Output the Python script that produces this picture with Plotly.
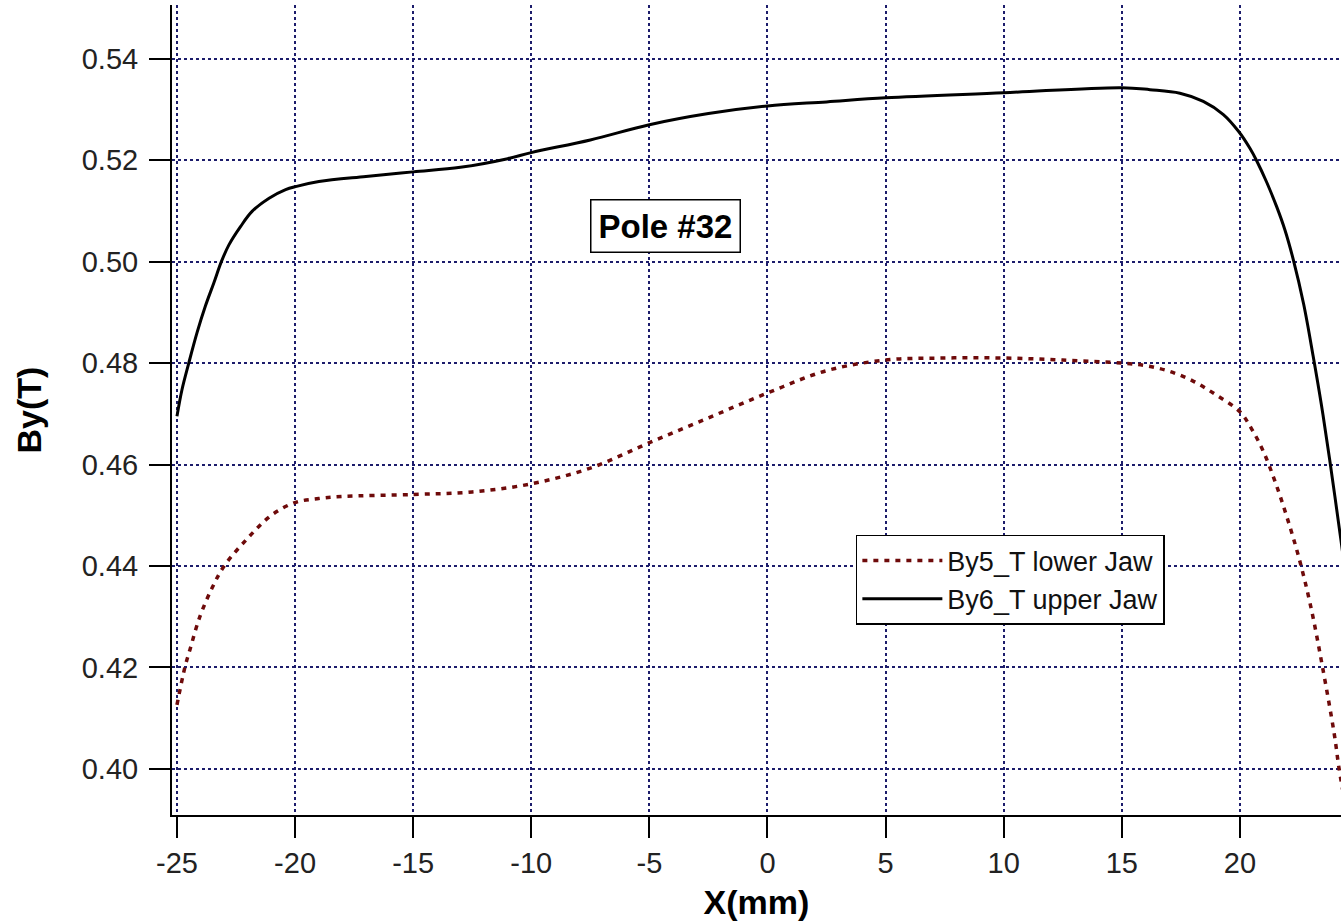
import plotly.graph_objects as go

# Lower jaw (By5_T)
x_lower = [-25.0, -24.66, -24.45, -24.03, -23.5, -23.0, -22.0, -21.0, -20.0, -19.0, -18.0, -15.0,
           -12.5, -10.0, -7.5, -5.0, -2.5, 0.0, 2.5, 5.0, 7.5, 10.0, 12.5, 15.0, 16.0,
           17.0, 18.0, 19.0, 20.0, 20.5, 21.0, 21.5, 22.0, 22.5, 23.0, 23.5, 24.0, 24.2, 24.5]
y_lower = [0.4126, 0.4201, 0.4235, 0.4300, 0.4358, 0.4400, 0.4455, 0.4500, 0.4525, 0.4533, 0.4537, 0.4541,
           0.4546, 0.4562, 0.4593, 0.4643, 0.4692, 0.4741, 0.4785, 0.4806, 0.4810, 0.4810, 0.4806, 0.4800, 0.4795,
           0.4784, 0.4765, 0.4737, 0.4704, 0.4670, 0.4625, 0.4565, 0.4495, 0.4416, 0.4320, 0.4200, 0.4067, 0.4000, 0.3920]

# Upper jaw (By6_T)
x_upper = [-25.0, -24.79, -24.5, -24.15, -23.8, -23.44, -23.12, -22.8, -22.31, -21.82, -21.1, -20.4,
           -19.98, -18.99, -17.0, -15.0, -13.0, -11.0, -10.0, -7.5, -5.0, -2.5, 0.0, 2.5, 5.0, 10.0,
           15.0, 16.19, 17.46, 18.45, 19.3, 19.94, 20.43, 20.71, 21.13, 21.56, 21.91, 22.26,
           22.7, 23.1, 23.45, 23.8, 24.28, 24.5]
y_upper = [0.4695, 0.4747, 0.4800, 0.4860, 0.4912, 0.4958, 0.5000, 0.5033, 0.5069, 0.5099, 0.5125, 0.5142,
           0.5148, 0.5158, 0.5168, 0.5177, 0.5186, 0.5203, 0.5215, 0.5240, 0.5270, 0.5292, 0.5307, 0.5315, 0.5323, 0.5333,
           0.5343, 0.5339, 0.5332, 0.5316, 0.5290, 0.5257, 0.5223, 0.5199, 0.5157, 0.5108, 0.5062, 0.5004,
           0.4916, 0.4814, 0.4718, 0.4610, 0.4450, 0.4375]

x_ticks = [-25, -20, -15, -10, -5, 0, 5, 10, 15, 20]
y_ticks = [0.40, 0.42, 0.44, 0.46, 0.48, 0.50, 0.52, 0.54]

FONT = "Liberation Sans, Arial, sans-serif"

fig = go.Figure()
fig.add_trace(go.Scatter(
    x=x_lower, y=y_lower, mode="lines", name="By5_T lower Jaw",
    line=dict(color="#6e0a0a", width=3.5, dash="5px,6px", shape="spline", smoothing=1.0),
))
fig.add_trace(go.Scatter(
    x=x_upper, y=y_upper, mode="lines", name="By6_T upper Jaw",
    line=dict(color="#000000", width=3, shape="spline", smoothing=1.0),
))

fig.add_annotation(
    x=-4.3, y=0.5071, xref="x", yref="y", text="<b>Pole #32</b>", showarrow=False,
    font=dict(family=FONT, size=33, color="#000000"),
    bordercolor="#000000", borderwidth=1.5, borderpad=7, bgcolor="#ffffff",
)

grid = dict(showgrid=True, gridcolor="#1c1c6b", gridwidth=1.5, griddash="3px,3px")

fig.update_layout(
    width=1341, height=923,
    margin=dict(l=172, r=0, t=5, b=108),
    paper_bgcolor="#ffffff", plot_bgcolor="#ffffff",
    font=dict(family=FONT, color="#222222"),
    showlegend=True,
    legend=dict(
        x=0.585, y=0.3457, xanchor="left", yanchor="top",
        bgcolor="#ffffff", bordercolor="#000000", borderwidth=1.5,
        font=dict(family=FONT, size=27, color="#111111"),
        tracegroupgap=0, itemwidth=80,
    ),
    xaxis=dict(
        range=[-25.21, 24.28], tickvals=x_ticks, ticktext=[str(v) for v in x_ticks],
        ticks="outside", ticklen=21, tickwidth=2, tickcolor="#000000",
        showline=True, linecolor="#000000", linewidth=2, zeroline=False,
        tickfont=dict(family=FONT, size=29, color="#222222"),
        title=dict(text="<b>X(mm)</b>", font=dict(family=FONT, size=34, color="#000000"), standoff=12),
        **grid,
    ),
    yaxis=dict(
        range=[0.3909, 0.5506], tickvals=y_ticks, ticktext=[f"{v:.2f}" for v in y_ticks],
        ticks="outside", ticklen=21, tickwidth=2, tickcolor="#000000",
        showline=True, linecolor="#000000", linewidth=2, zeroline=False,
        tickfont=dict(family=FONT, size=29, color="#222222"),
        ticklabelstandoff=5,
        title=dict(text="<b>By(T)</b>", font=dict(family=FONT, size=34, color="#000000"), standoff=30),
        **grid,
    ),
)

fig.write_html("out.html")
